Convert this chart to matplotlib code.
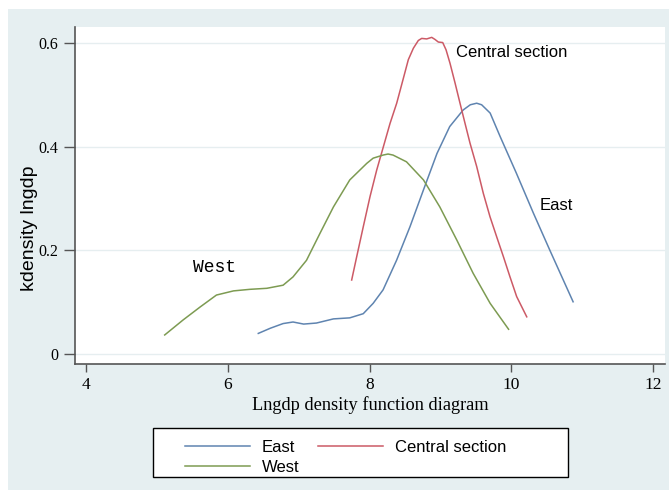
import numpy as np
import matplotlib.pyplot as plt
from matplotlib.patches import Rectangle

# kernel density curves
east_x = [6.43, 6.60, 6.78, 6.92, 7.07, 7.25, 7.49, 7.72, 7.91, 8.05, 8.19, 8.38, 8.57,
          8.76, 8.95, 9.13, 9.32, 9.42, 9.51, 9.58, 9.70, 9.84, 10.07, 10.31, 10.54, 10.87]
east_y = [0.040, 0.050, 0.059, 0.062, 0.058, 0.060, 0.068, 0.070, 0.078, 0.098, 0.124, 0.181, 0.246,
          0.317, 0.387, 0.439, 0.471, 0.481, 0.484, 0.481, 0.465, 0.420, 0.349, 0.272, 0.201, 0.101]

central_x = [7.747, 7.818, 7.911, 8.006, 8.100, 8.194, 8.288, 8.382, 8.476, 8.546, 8.617,
             8.687, 8.735, 8.805, 8.876, 8.922, 8.969, 9.031, 9.078, 9.134, 9.205, 9.275,
             9.346, 9.416, 9.510, 9.604, 9.698, 9.793, 9.887, 9.980, 10.074, 10.216]
central_y = [0.143, 0.188, 0.246, 0.304, 0.355, 0.400, 0.445, 0.484, 0.532, 0.568, 0.590,
             0.605, 0.609, 0.608, 0.611, 0.607, 0.602, 0.601, 0.587, 0.561, 0.523, 0.484,
             0.445, 0.407, 0.362, 0.310, 0.265, 0.226, 0.188, 0.149, 0.111, 0.072]

west_x = [5.11, 5.37, 5.61, 5.84, 6.08, 6.31, 6.55, 6.78, 6.92, 7.11, 7.30, 7.49,
          7.72, 7.96, 8.05, 8.19, 8.26, 8.33, 8.52, 8.76, 8.99, 9.23, 9.46, 9.70, 9.96]
west_y = [0.037, 0.066, 0.091, 0.114, 0.122, 0.125, 0.127, 0.133, 0.149, 0.181, 0.233, 0.284,
          0.336, 0.368, 0.378, 0.384, 0.386, 0.384, 0.371, 0.336, 0.284, 0.220, 0.156, 0.098, 0.048]

x_ticks = [4, 6, 8, 10, 12]
y_ticks = [0, 0.2, 0.4, 0.6]
y_ticklabels = ['0', '0.2', '0.4', '0.6']

bg = '#e6eff1'
serif = ['Liberation Serif', 'DejaVu Serif']
sans = ['Liberation Sans', 'DejaVu Sans']

fig = plt.figure(figsize=(6.69, 4.9), dpi=100, facecolor='white')
fig.patches.append(Rectangle((8 / 669, 0), 1, 1 - 9 / 490, transform=fig.transFigure,
                             facecolor=bg, edgecolor='none', zorder=-10))
ax = fig.add_axes([75 / 669, 1 - 364 / 490, 590 / 669, 337 / 490])
ax.set_facecolor('white')

l_east, = ax.plot(east_x, east_y, color='#5f84b0', lw=1.1, label='East')
l_cen, = ax.plot(central_x, central_y, color='#cc5a66', lw=1.1, label='Central section')
l_west, = ax.plot(west_x, west_y, color='#7d9b52', lw=1.1, label='West')

for yv in y_ticks:
    ax.axhline(yv, color='#e6eef0', lw=1, zorder=0)

ax.set_xlim(3.845, 12.166)
ax.set_ylim(-0.019, 0.631)
ax.set_xticks(x_ticks)
ax.set_xticklabels([str(t) for t in x_ticks], family=serif, fontsize=12.5)
ax.set_yticks(y_ticks)
ax.set_yticklabels(y_ticklabels, family=serif, fontsize=11.5)
ax.tick_params(axis='x', length=6, width=1, color='#555555', pad=3)
ax.tick_params(axis='y', length=8, width=1, color='#555555', pad=4)

for s in ['top', 'right']:
    ax.spines[s].set_visible(False)
for s in ['left', 'bottom']:
    ax.spines[s].set_color('#555555')
    ax.spines[s].set_linewidth(1.2)

ax.set_xlabel('Lngdp density function diagram', family=serif, fontsize=13.2)
ax.xaxis.set_label_coords(0.5, -0.1217)
ax.xaxis.label.set_va('center')
ax.set_ylabel('kdensity lngdp', family=sans, fontsize=14)
ax.yaxis.set_label_coords(-0.0763, 0.404)
ax.yaxis.label.set_va('center')

ax.text(9.22, 0.581, 'Central section', family=sans, fontsize=12, va='center', ha='left')
ax.text(10.40, 0.286, 'East', family=sans, fontsize=12, va='center', ha='left')
ax.text(5.51, 0.168, 'West', family=['Liberation Mono', 'DejaVu Sans Mono'], fontsize=13,
        va='center', ha='left')

# legend: rows East / Central section, then West
fig.patches.append(Rectangle((153 / 669, 1 - 477 / 490), 415 / 669, 49 / 490,
                             transform=fig.transFigure, facecolor='white',
                             edgecolor='black', lw=1.0, zorder=1))
leg = fig.legend([l_east, l_west, l_cen], ['East', 'West', 'Central section'],
                 loc='upper left', bbox_to_anchor=(185 / 669, 1 - 439.5 / 490),
                 ncol=2, frameon=False, prop={'family': sans, 'size': 12},
                 handlelength=3.9, handletextpad=0.72, columnspacing=1.13,
                 borderpad=0, labelspacing=0.30, borderaxespad=0)
leg.set_zorder(5)

fig.savefig('out.png', dpi=100, facecolor=fig.get_facecolor())
